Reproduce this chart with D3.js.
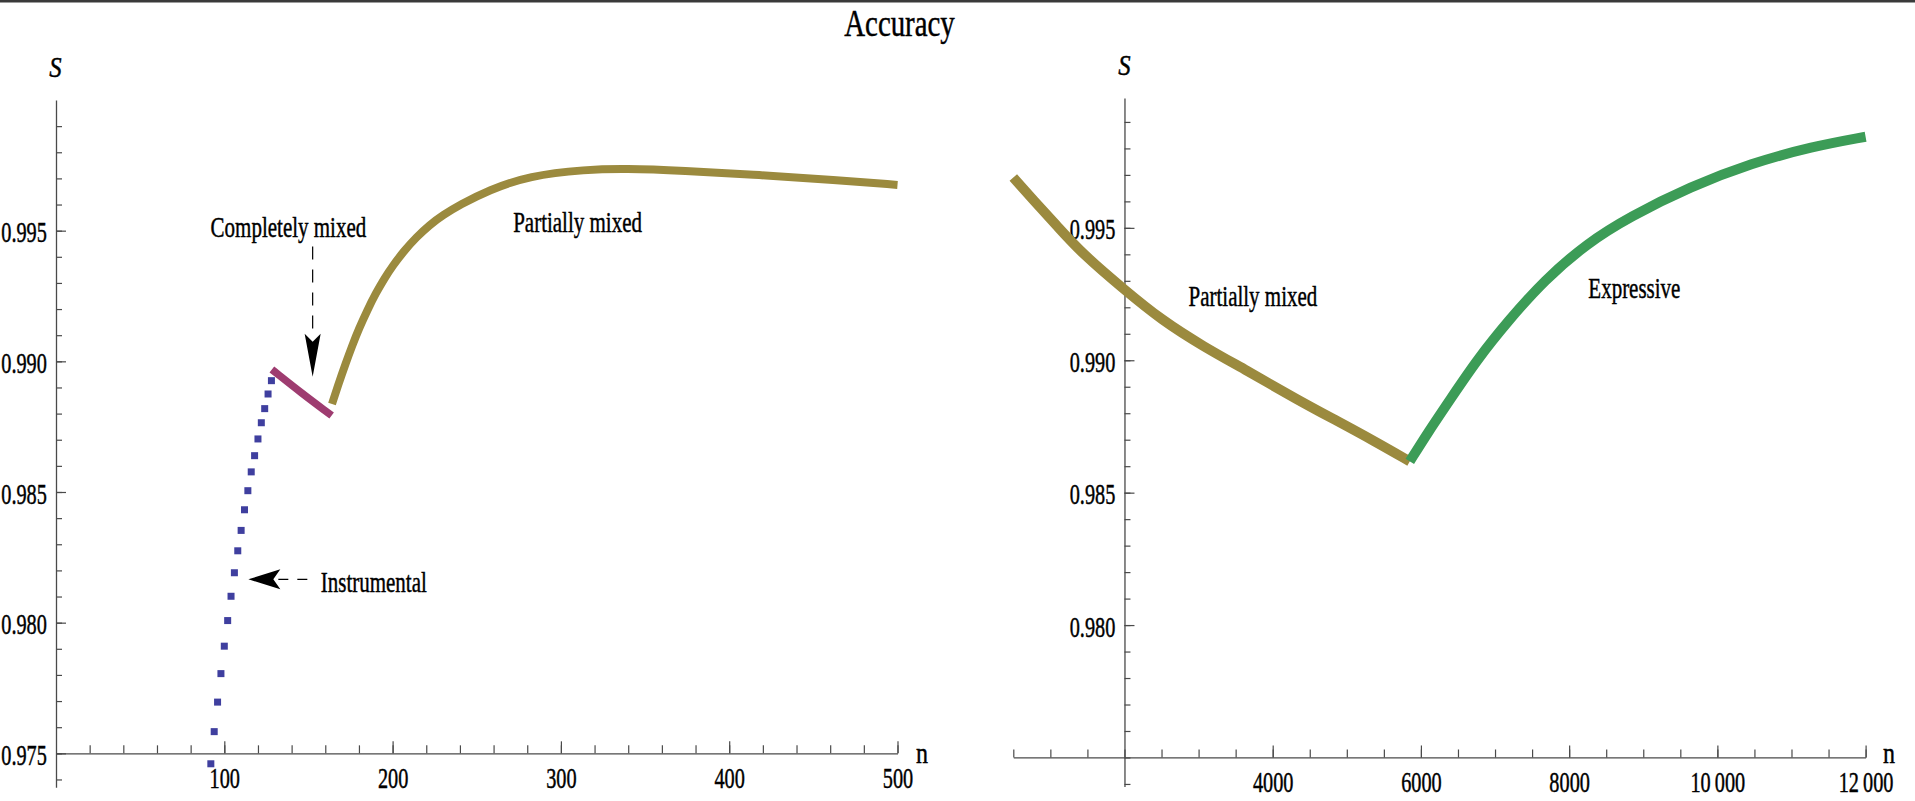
<!doctype html>
<html>
<head>
<meta charset="UTF-8">
<title>Accuracy</title>
<script src="https://d3js.org/d3.v7.min.js"></script>
<style>
  body { margin: 0; background: #fff; }
  text { font-family: "Liberation Serif", "Times New Roman", serif; fill: #000; stroke: #000; stroke-width: 0.45px; }
</style>
</head>
<body>
<script>
// ---- data ----
// left panel, instrumental regime (blue squares)
var instrN = [92, 94, 96, 98, 100, 102, 104, 106, 108, 110, 112, 114, 116, 118, 120, 122, 124, 126, 128];
var instrS = [0.97460, 0.97583, 0.97696, 0.97805, 0.97910, 0.98008, 0.98101, 0.98191, 0.98275, 0.98353,
              0.98432, 0.98505, 0.98577, 0.98639, 0.98703, 0.98765, 0.98819, 0.98875, 0.98926];
// left panel, completely mixed regime (magenta)
var mixedN = [130, 146, 162];
var mixedS = [0.98960, 0.98878, 0.98801];
// left panel, partially mixed regime (olive)
var partN = [164, 168, 172, 176, 180, 185, 190, 195, 200, 207, 214, 222, 230, 240, 257, 281, 315, 338, 372, 418, 463, 500];
var partS = [0.98837, 0.98916, 0.98990, 0.99060, 0.99125, 0.99196, 0.99260, 0.99316, 0.99365, 0.99424, 0.99474,
             0.99522, 0.99560, 0.99599, 0.99655, 0.99710, 0.99734, 0.99738, 0.99730, 0.99713, 0.99694, 0.99675];
// right panel, partially mixed (olive)
var part2N = [500, 770, 1100, 1425, 2000, 2500, 3070, 3640, 4340, 4875, 5370, 5850];
var part2S = [0.99690, 0.99605, 0.99504, 0.99404, 0.99266, 0.99152, 0.99051, 0.98963, 0.98850, 0.98770, 0.98695, 0.98618];
// right panel, expressive (green)
var exprN = [5850, 6100, 6390, 6765, 7175, 7667, 8243, 8817, 9640, 10460, 11280, 12000];
var exprS = [0.98618, 0.98730, 0.98850, 0.99005, 0.99148, 0.99303, 0.99442, 0.99542, 0.99656, 0.99744, 0.99807, 0.99844];

// ticks
var leftXMajor = [100, 200, 300, 400, 500];
var leftXLabels = ["100", "200", "300", "400", "500"];
var leftYMajor = [0.975, 0.980, 0.985, 0.990, 0.995];
var leftYLabels = ["0.975", "0.980", "0.985", "0.990", "0.995"];
var rightXMajor = [4000, 6000, 8000, 10000, 12000];
var rightXLabels = ["4000", "6000", "8000", "10\u2009000", "12\u2009000"];
var rightYMajor = [0.980, 0.985, 0.990, 0.995];
var rightYLabels = ["0.980", "0.985", "0.990", "0.995"];

var W = 1915, H = 801;
var SX = 0.7; // text is horizontally squeezed in the original

var svg = d3.select("body").append("svg").attr("width", W).attr("height", H);

svg.append("rect").attr("x", 0).attr("y", 0).attr("width", W).attr("height", 2.5).attr("fill", "#3a3a3a");

// scales
var xL = d3.scaleLinear().domain([0, 500]).range([56, 897.5]);
var yL = d3.scaleLinear().domain([0.9737, 1.0]).range([787.3, 100]);
var xR = d3.scaleLinear().domain([500, 12000]).range([1013.3, 1865.6]);
var yR = d3.scaleLinear().domain([0.9739, 0.9999]).range([786.6, 98.1]);

function squeeze(sel) {
    sel.selectAll("text").attr("transform", "scale(" + SX + ",1)").style("font-size", "29px");
}
function styleAxis(g) {
    g.selectAll("path.domain").attr("stroke", "#4a4a4a").attr("stroke-width", 1.3);
    g.selectAll(".tick line").attr("stroke", "#4a4a4a").attr("stroke-width", 1.2);
}

function thousandths(a, b) {
    var r = [];
    for (var i = a; i <= b; i++) r.push(i / 1000);
    return r;
}

function drawAxes(xs, ys, xMinor, xMajor, xLabels, yMinor, yMajor, yLabels, xAt, yAt) {
    // x axis: minor then major
    var gx = svg.append("g").attr("transform", "translate(0," + ys(xAt) + ")");
    gx.append("g").call(d3.axisBottom(xs).tickValues(xMinor).tickSizeInner(-8).tickSizeOuter(0).tickFormat(""))
        .call(function (g) { g.select(".domain").remove(); });
    var gxm = gx.append("g").call(d3.axisBottom(xs).tickValues(xMajor).tickSizeInner(-12).tickSizeOuter(0)
        .tickPadding(14).tickFormat(function (d, i) { return xLabels[i]; }));
    squeeze(gxm);
    gxm.selectAll(".tick text").attr("dy", "0.71em");
    styleAxis(gx);

    var gy = svg.append("g").attr("transform", "translate(" + xs(yAt) + ",0)");
    gy.append("g").call(d3.axisLeft(ys).tickValues(yMinor).tickSizeInner(-6).tickSizeOuter(0).tickFormat(""))
        .call(function (g) { g.select(".domain").remove(); });
    var gym = gy.append("g").call(d3.axisLeft(ys).tickValues(yMajor).tickSizeInner(-10).tickSizeOuter(0)
        .tickPadding(13).tickFormat(function (d, i) { return yLabels[i]; }));
    squeeze(gym);
    gym.selectAll(".tick text").attr("dy", "0.38em");
    styleAxis(gy);
}

drawAxes(xL, yL, d3.range(20, 501, 20), leftXMajor, leftXLabels,
         thousandths(974, 999), leftYMajor, leftYLabels, 0.975, 0);
drawAxes(xR, yR, d3.range(500, 12001, 500), rightXMajor, rightXLabels,
         thousandths(974, 999), rightYMajor, rightYLabels, 0.975, 2000);

// text helper
function label(x, y, str, size, anchor, sx, italic) {
    return svg.append("text")
        .attr("transform", "translate(" + x + "," + y + ") scale(" + sx + ",1)")
        .attr("text-anchor", anchor)
        .style("font-size", size + "px")
        .style("font-style", italic ? "italic" : "normal")
        .text(str);
}

label(899.5, 36, "Accuracy", 37, "middle", 0.78);
label(55.5, 76.5, "S", 29, "middle", 0.85, true);
label(1124.5, 75, "S", 29, "middle", 0.85, true);
label(916, 763, "n", 30, "start", 0.8);
label(1883, 763, "n", 30, "start", 0.8);

// ---- series ----
var lineL = d3.line().x(function (d) { return xL(d[0]); }).y(function (d) { return yL(d[1]); }).curve(d3.curveBasis);
var lineR = d3.line().x(function (d) { return xR(d[0]); }).y(function (d) { return yR(d[1]); }).curve(d3.curveBasis);
function pairs(a, b) { return a.map(function (v, i) { return [v, b[i]]; }); }

svg.append("path").datum(pairs(partN, partS)).attr("d", lineL)
    .attr("fill", "none").attr("stroke", "#9b8a3e").attr("stroke-width", 8);
svg.append("path").datum(pairs(mixedN, mixedS)).attr("d", lineL)
    .attr("fill", "none").attr("stroke", "#9e3c70").attr("stroke-width", 7.5).attr("stroke-linecap", "square");
svg.append("g").selectAll("rect").data(pairs(instrN, instrS)).enter().append("rect")
    .attr("x", function (d) { return xL(d[0]) - 3.5; })
    .attr("y", function (d) { return yL(d[1]) - 3.5; })
    .attr("width", 7).attr("height", 7)
    .attr("fill", "#3f3f9f");

svg.append("path").datum(pairs(part2N, part2S)).attr("d", lineR)
    .attr("fill", "none").attr("stroke", "#9b8a3e").attr("stroke-width", 10);
svg.append("path").datum(pairs(exprN, exprS)).attr("d", lineR)
    .attr("fill", "none").attr("stroke", "#3c9c57").attr("stroke-width", 10);

// ---- annotations ----
label(xL(138.1), yL(0.99477), "Completely mixed", 30, "middle", SX);
var ax = xL(152.5);
svg.append("line").attr("x1", ax).attr("x2", ax).attr("y1", yL(0.99439)).attr("y2", yL(0.99094))
    .attr("stroke", "#000").attr("stroke-width", 1.2).attr("stroke-dasharray", "13,10");
var tipY = yL(0.98941), baseY = yL(0.99094);
svg.append("path")
    .attr("d", "M" + ax + "," + tipY + "L" + (ax - 8) + "," + (baseY - 3) + "L" + ax + "," + (baseY + 5) +
               "L" + (ax + 8) + "," + (baseY - 3) + "Z")
    .attr("fill", "#000");

label(xL(157.3), yL(0.98118), "Instrumental", 30, "start", SX);
var ay = yL(0.98166), tipX = xL(114.3), baseX = xL(132.1);
svg.append("line").attr("x1", baseX).attr("x2", xL(149.7)).attr("y1", ay).attr("y2", ay)
    .attr("stroke", "#000").attr("stroke-width", 1.2).attr("stroke-dasharray", "10,9");
svg.append("path")
    .attr("d", "M" + tipX + "," + ay + "L" + (baseX + 2) + "," + (ay - 10) + "L" + (baseX - 5) + "," + ay +
               "L" + (baseX + 2) + "," + (ay + 10) + "Z")
    .attr("fill", "#000");

label(xL(309.9), yL(0.99496), "Partially mixed", 30, "middle", SX);
label(xR(3733), yR(0.99205), "Partially mixed", 30, "middle", SX);
label(xR(8880), yR(0.99235), "Expressive", 30, "middle", SX);
</script>
</body>
</html>
